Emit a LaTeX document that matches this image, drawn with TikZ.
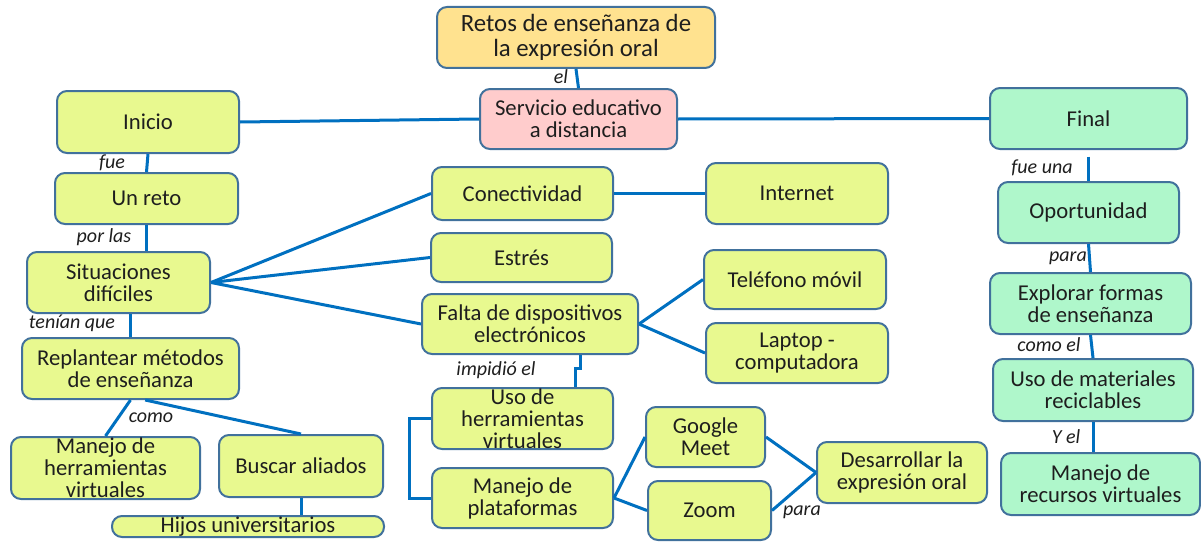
\documentclass[tikz,border=0pt]{standalone}
\usepackage{fontspec}
\setmainfont{Carlito}
\usepackage{tikz}
\usepackage{xcolor}
\usetikzlibrary{positioning}

\definecolor{boxfill}{RGB}{232,249,143}
\definecolor{boxline}{RGB}{65,113,156}
\definecolor{linkblue}{RGB}{0,112,192}
\definecolor{topfill}{RGB}{255,226,143}
\definecolor{pinkfill}{RGB}{255,204,204}
\definecolor{mintfill}{RGB}{175,247,203}
\definecolor{txt}{RGB}{30,30,30}

\tikzset{
  box/.style={rectangle, rounded corners=7.5pt, draw=boxline, line width=1.5pt,
    fill=boxfill, inner sep=0pt, align=center, text=txt,
    font=\fontsize{17}{16.5}\selectfont},
  greenbox/.style={box, fill=mintfill},
  lbl/.style={inner sep=0pt, text=txt, font=\fontsize{15}{16}\selectfont\itshape},
  link/.style={draw=linkblue, line width=2.25pt}
}

\begin{document}
\begin{tikzpicture}[x=0.75pt, y=-0.75pt]
                \useasboundingbox (0,0) rectangle (1201,542);

                % center and branches
                \node[box, fill=topfill, minimum width=208.5pt, minimum height=45.75pt, font=\fontsize{18.6}{18.75}\selectfont] (retos) at (576, 37.5) {Retos de enseñanza de\\la expresión oral};
                \node[box, fill=pinkfill, minimum width=147.75pt, minimum height=45pt] (serv) at (578.5, 119) {Servicio educativo\\a distancia};
                \node[box, minimum width=136.5pt, minimum height=46.5pt] (ini) at (148, 122) {Inicio};
                \node[greenbox, minimum width=147.75pt, minimum height=45.75pt] (fin) at (1088.5, 118.5) {Final};

                % left column
                \node[box, minimum width=137.25pt, minimum height=38.25pt] (reto) at (146.5, 198.5) {Un reto};
                \node[box, minimum width=137.25pt, minimum height=45.75pt] (sit) at (118.5, 282.5) {Situaciones\\difíciles};
                \node[box, minimum width=162.75pt, minimum height=45.75pt] (repl) at (130.5, 368.5) {Replantear métodos\\de enseñanza};
                \node[box, minimum width=141.75pt, minimum height=46.5pt] (manh) at (105.5, 468) {Manejo de\\herramientas\\virtuales};
                \node[box, minimum width=123pt, minimum height=46.5pt] (busc) at (301, 466) {Buscar aliados};
                \node[box, minimum width=204pt, minimum height=15.75pt] (hij) at (248, 526.5) {Hijos universitarios};

                % middle
                \node[box, minimum width=135.75pt, minimum height=39.75pt] (con) at (522.5, 193.5) {Conectividad};
                \node[box, minimum width=136.5pt, minimum height=45.75pt] (inet) at (797, 193.5) {Internet};
                \node[box, minimum width=135.75pt, minimum height=36.75pt] (estr) at (521.5, 257.5) {Estrés};
                \node[box, minimum width=162pt, minimum height=45pt] (falta) at (530, 324) {Falta de dispositivos\\electrónicos};
                \node[box, minimum width=136.5pt, minimum height=44.25pt] (tel) at (795, 279.5) {Teléfono móvil};
                \node[box, minimum width=136.5pt, minimum height=45pt] (lap) at (797, 353) {Laptop -\\computadora};
                \node[box, minimum width=135.75pt, minimum height=45.75pt] (usoh) at (522.5, 418.5) {Uso de\\herramientas\\virtuales};
                \node[box, minimum width=135.75pt, minimum height=45pt] (plat) at (522.5, 498) {Manejo de\\plataformas};
                \node[box, minimum width=89.25pt, minimum height=45pt] (meet) at (705.5, 437) {Google\\Meet};
                \node[box, minimum width=92.25pt, minimum height=44.25pt] (zoom) at (709.5, 510.5) {Zoom};
                \node[box, minimum width=127.5pt, minimum height=45.75pt] (desa) at (902, 472.5) {Desarrollar la\\expresión oral};

                % right column
                \node[greenbox, minimum width=135.75pt, minimum height=45.75pt] (opo) at (1088.5, 212.5) {Oportunidad};
                \node[greenbox, minimum width=150.75pt, minimum height=45.75pt] (expl) at (1090.5, 303.5) {Explorar formas\\de enseñanza};
                \node[greenbox, minimum width=150pt, minimum height=46.5pt] (mat) at (1093, 390) {Uso de materiales\\reciclables};
                \node[greenbox, minimum width=149.25pt, minimum height=46.5pt] (rec) at (1100.5, 484) {Manejo de\\recursos virtuales};

                % linking words
                \node[lbl] (lel) at (561, 77) {el};
                \node[lbl] (lfue) at (112, 163) {fue};
                \node[lbl] (lporlas) at (104, 237) {por las};
                \node[lbl] (ltenian) at (72, 323) {tenían que};
                \node[lbl] (lcomo) at (151, 418) {como};
                \node[lbl] (limpidio) at (496, 370) {impidió el};
                \node[lbl] (lpara) at (802, 512) {para};
                \node[lbl] (lfueuna) at (1042, 168) {fue una};
                \node[lbl] (lpara2) at (1068, 258) {para};
                \node[lbl] (lcomoel) at (1049, 345) {como el};
                \node[lbl] (lyel) at (1066, 437) {Y el};

                % connectors
                \draw[link] (retos.south) -- (serv.north);
                \draw[link] (ini.east) -- (serv.west);
                \draw[link] (serv.east) -- (fin.west);

                \draw[link] (ini.south) -- (reto.north);
                \draw[link] (reto.south) -- (reto.south |- sit.north);
                \draw[link] (repl.north) -- (repl.north |- sit.south);
                \draw[link] (repl.south) -- (manh.north);
                \draw[link] ([xshift=11pt]repl.south) -- (busc.north);
                \draw[link] (busc.south) -- (busc.south |- hij.north);

                \draw[link] (sit.east) -- (con.west);
                \draw[link] (sit.east) -- (estr.west);
                \draw[link] (sit.east) -- (falta.west);
                \draw[link] (con.east) -- (inet.west);
                \draw[link] (falta.east) -- (tel.west);
                \draw[link] (falta.east) -- (lap.west);
                \draw[link] ([xshift=37.5pt]falta.south) -- ++(0,-9.75pt) -| ([xshift=40pt]usoh.north);
                \draw[link] (usoh.west) -- ++(-16.5pt,0) |- (plat.west);
                \draw[link] (plat.east) -- (meet.west);
                \draw[link] (plat.east) -- (zoom.west);
                \draw[link] (meet.east) -- (desa.west);
                \draw[link] (zoom.east) -- (desa.west);

                \draw[link] ([yshift=-5pt]fin.south) -- (opo.north);
                \draw[link] (opo.south) -- (expl.north);
                \draw[link] (expl.south) -- (mat.north);
                \draw[link] (mat.south) -- (mat.south |- rec.north);
            \end{tikzpicture}
\end{document}
